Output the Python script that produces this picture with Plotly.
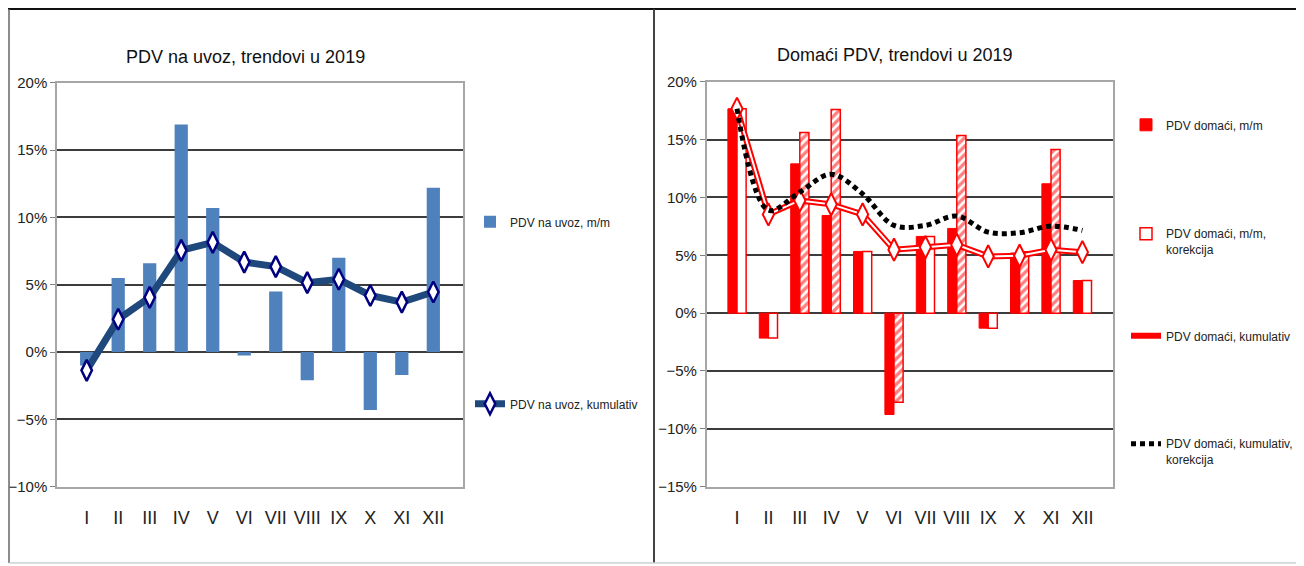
import plotly.graph_objects as go

# months
months = ["I", "II", "III", "IV", "V", "VI", "VII", "VIII", "IX", "X", "XI", "XII"]

# PDV na uvoz (left chart), %
uvoz_mm = [-1.0, 5.5, 6.6, 16.9, 10.7, -0.25, 4.5, -2.1, 7.0, -4.3, -1.7, 12.2]
uvoz_kum = [-1.36, 2.43, 4.06, 7.55, 8.14, 6.68, 6.34, 5.15, 5.4, 4.2, 3.71, 4.46]

# Domaci PDV (right chart), %
domaci_mm = [17.66, -2.16, 12.9, 8.44, 5.33, -8.76, 6.63, 7.32, -1.3, 5.19, 11.18, 2.82]
domaci_mm_kor = [17.66, -2.16, 15.6, 17.6, 5.33, -7.7, 6.63, 15.36, -1.3, 5.3, 14.15, 2.82]
domaci_kum = [17.66, 8.53, 9.74, 9.4, 8.53, 5.48, 5.7, 5.9, 4.9, 4.96, 5.48, 5.27]
domaci_kum_kor = [17.66, 8.9, 10.46, 12.0, 10.3, 7.58, 7.58, 8.39, 7.0, 6.95, 7.52, 7.15]

FONT = "Liberation Sans, Arial, sans-serif"
W, H = 1304, 566
OFF = 8  # page body margin


def px(sx):
    return (sx - OFF) / W


def py(sy):
    return 1 - (sy - OFF) / H


fig = go.Figure()

# ---- left chart ----
fig.add_trace(go.Bar(
    x=months, y=uvoz_mm, name="PDV na uvoz, m/m",
    marker=dict(color="#4F81BD", line=dict(width=0)),
    width=0.42, xaxis="x", yaxis="y", legend="legend",
))
fig.add_trace(go.Scatter(
    x=months, y=uvoz_kum, name="PDV na uvoz, kumulativ",
    mode="lines+markers",
    line=dict(color="#1F497D", width=7),
    marker=dict(symbol="diamond-tall", size=15, color="white",
                line=dict(color="#000080", width=2.5)),
    xaxis="x", yaxis="y", legend="legend2",
))

# ---- right chart ----
hatch = ["" if a == b else "/" for a, b in zip(domaci_mm, domaci_mm_kor)]

fig.add_trace(go.Bar(
    x=months, y=domaci_mm, name="PDV domaći, m/m",
    marker=dict(color="#FF0000", line=dict(color="#FF0000", width=1)),
    width=0.29, offset=-0.29, xaxis="x2", yaxis="y2", legend="legend3",
))
fig.add_trace(go.Bar(
    x=months, y=domaci_mm_kor, name="PDV domaći, m/m,<br>korekcija",
    marker=dict(color="white", line=dict(color="#FF0000", width=1.5),
                pattern=dict(shape=hatch, fgcolor="#FF0000", bgcolor="white",
                             size=6, solidity=0.55)),
    width=0.29, offset=0.0, xaxis="x2", yaxis="y2", legend="legend4",
))
fig.add_trace(go.Scatter(
    x=months, y=domaci_kum, name="PDV domaći, kumulativ",
    mode="lines", line=dict(color="#FF0000", width=6),
    xaxis="x2", yaxis="y2", legend="legend5",
))
fig.add_trace(go.Scatter(
    x=months, y=domaci_kum, mode="lines+markers", showlegend=False,
    line=dict(color="white", width=2),
    marker=dict(symbol="diamond-tall", size=16, color="white",
                line=dict(color="#FF0000", width=2)),
    xaxis="x2", yaxis="y2",
))
fig.add_trace(go.Scatter(
    x=months, y=domaci_kum_kor, name="PDV domaći, kumulativ,<br>korekcija",
    mode="lines", line=dict(color="black", width=5, dash="5px,4px", shape="spline"),
    xaxis="x2", yaxis="y2", legend="legend6",
))

# ---- axes ----
yax = dict(
    ticksuffix="%", dtick=5, showgrid=True, gridcolor="#3C3C3C", gridwidth=1.5,
    zeroline=True, zerolinecolor="#3C3C3C", zerolinewidth=1.5,
    showline=True, linecolor="#A6A6A6", linewidth=1.5, mirror=True,
    ticks="outside", ticklen=5, tickcolor="#808080", automargin=False,
    tickfont=dict(family=FONT, size=15, color="#222"), fixedrange=True,
)
xax = dict(
    showgrid=False, showline=True, linecolor="#A6A6A6", linewidth=1.5, mirror=True,
    ticks="", ticklabelstandoff=14, automargin=False,
    tickfont=dict(family=FONT, size=18, color="#222"), fixedrange=True,
)

fig.update_layout(
    width=W, height=H,
    margin=dict(l=0, r=0, t=0, b=0, autoexpand=False),
    paper_bgcolor="white", plot_bgcolor="white",
    barmode="overlay", showlegend=True,
    font=dict(family=FONT, size=13, color="#222"),
    xaxis=dict(domain=[px(57), px(463)], anchor="y", **xax),
    yaxis=dict(domain=[py(486.7), py(82.7)], anchor="x", range=[-10, 20], **yax),
    xaxis2=dict(domain=[px(706.7), px(1112.7)], anchor="y2", **xax),
    yaxis2=dict(domain=[py(486.7), py(81.7)], anchor="x2", range=[-15, 20], **yax),
)

leg = dict(xanchor="left", yanchor="middle", bgcolor="rgba(0,0,0,0)",
           font=dict(family=FONT, size=12, color="#222"), valign="top",
           itemwidth=30)
fig.update_layout(
    legend=dict(x=px(470), y=py(222), **leg),
    legend2=dict(x=px(470), y=py(404), **leg),
    legend3=dict(x=px(1126), y=py(125), **leg),
    legend4=dict(x=px(1126), y=py(242), **leg),
    legend5=dict(x=px(1126), y=py(336), **leg),
    legend6=dict(x=px(1126), y=py(452), **leg),
)

# titles
fig.add_annotation(text="PDV na uvoz, trendovi u 2019", x=px(245), y=py(57),
                   xref="paper", yref="paper", showarrow=False,
                   xanchor="center", yanchor="middle",
                   font=dict(family=FONT, size=18, color="#111"))
fig.add_annotation(text="Domaći PDV, trendovi u 2019", x=px(894), y=py(55),
                   xref="paper", yref="paper", showarrow=False,
                   xanchor="center", yanchor="middle",
                   font=dict(family=FONT, size=18, color="#111"))

# panel frames
top, bottom = py(9), py(563)
fig.add_shape(type="line", xref="paper", yref="paper", x0=0, x1=1, y0=top, y1=top,
              line=dict(color="#111", width=2))
fig.add_shape(type="line", xref="paper", yref="paper", x0=px(9), x1=px(9), y0=bottom, y1=top,
              line=dict(color="#666", width=1.5))
fig.add_shape(type="line", xref="paper", yref="paper", x0=px(654), x1=px(654), y0=bottom, y1=top,
              line=dict(color="#444", width=2))
fig.add_shape(type="line", xref="paper", yref="paper", x0=px(1301), x1=px(1301), y0=bottom, y1=top,
              line=dict(color="#444", width=1.5))
fig.add_shape(type="line", xref="paper", yref="paper", x0=px(9), x1=px(1301), y0=bottom, y1=bottom,
              line=dict(color="#D0D0D0", width=1.5))

fig.write_html("out.html")
